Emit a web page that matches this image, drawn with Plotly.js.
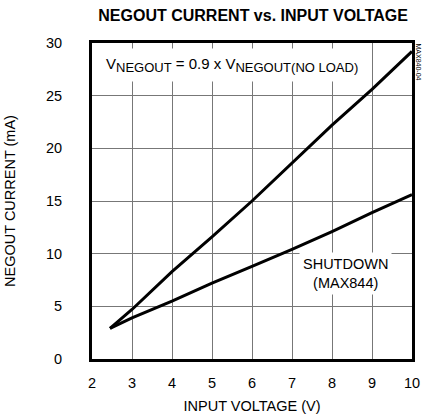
<!DOCTYPE html>
<html><head><meta charset="utf-8">
<script src="https://cdn.plot.ly/plotly-3.0.1.min.js"></script>
<style>body{margin:0;background:#fff}#c{width:424px;height:419px}</style>
</head><body><div id="c"></div>
<script>
const vin = [2.45, 3, 4, 5, 6, 7, 8, 9, 10];
const normalCurrent = [2.9, 4.7, 8.3, 11.6, 15.0, 18.6, 22.2, 25.6, 29.2];
const shutdownCurrent = [2.9, 3.9, 5.5, 7.2, 8.8, 10.4, 12.1, 13.9, 15.6];
const xTicks = [2, 3, 4, 5, 6, 7, 8, 9, 10];
const yTicks = [0, 5, 10, 15, 20, 25, 30];

const font = 'Liberation Sans, Arial, sans-serif';
const traces = [
  {x: vin, y: normalCurrent, mode: 'lines', line: {color: '#000', width: 3}, hoverinfo: 'skip'},
  {x: vin, y: shutdownCurrent, mode: 'lines', line: {color: '#000', width: 3}, hoverinfo: 'skip'}
];
const sub = s => '<sub><span style="font-size:13px">' + s + '</span></sub>';
const layout = {
  width: 424, height: 419,
  margin: {l: 92, r: 12, t: 43, b: 60},
  paper_bgcolor: '#fff', plot_bgcolor: '#fff',
  showlegend: false,
  font: {family: font, size: 14.5, color: '#000'},
  title: {text: '<b>NEGOUT CURRENT vs. INPUT VOLTAGE</b>', font: {family: font, size: 16, color: '#000'},
          x: 0.597, xanchor: 'center', y: 0.963, yanchor: 'middle'},
  xaxis: {range: [2, 10], tickvals: xTicks, ticktext: xTicks.map(String), showgrid: true, gridcolor: '#777', gridwidth: 1,
          zeroline: false, showline: true, linecolor: '#000', linewidth: 3, mirror: true, ticks: '',
          ticklabelstandoff: 9, tickfont: {size: 14.5},
          title: {text: 'INPUT VOLTAGE (V)', font: {size: 14.5}, standoff: 11}},
  yaxis: {range: [0, 30], tickvals: yTicks, ticktext: yTicks.map(String), showgrid: true, gridcolor: '#777', gridwidth: 1,
          zeroline: false, showline: true, linecolor: '#000', linewidth: 3, mirror: true, ticks: '',
          ticklabelstandoff: 24, tickfont: {size: 14.5},
          title: {text: 'NEGOUT CURRENT (mA)', font: {size: 14.5}, standoff: 27}},
  annotations: [
    {x: 5.5, y: 27.9, xref: 'x', yref: 'y', showarrow: false,
     text: 'V' + sub('NEGOUT') + ' = 0.9 x V' + sub('NEGOUT(NO LOAD)'), font: {size: 15},
     bgcolor: '#fff', borderpad: 6},
    {x: 8.33, y: 8.1, xref: 'x', yref: 'y', showarrow: false,
     text: 'SHUTDOWN<br>(MAX844)', font: {size: 14.5}, bgcolor: '#fff', borderpad: 3},
    {x: 1, y: 1, xref: 'paper', yref: 'paper', xshift: 6, yshift: 2, showarrow: false, textangle: 90,
     xanchor: 'center', yanchor: 'top', text: 'MAX840-04', font: {size: 7}}
  ]
};
Plotly.newPlot('c', traces, layout, {displayModeBar: false, staticPlot: true});
</script></body></html>
